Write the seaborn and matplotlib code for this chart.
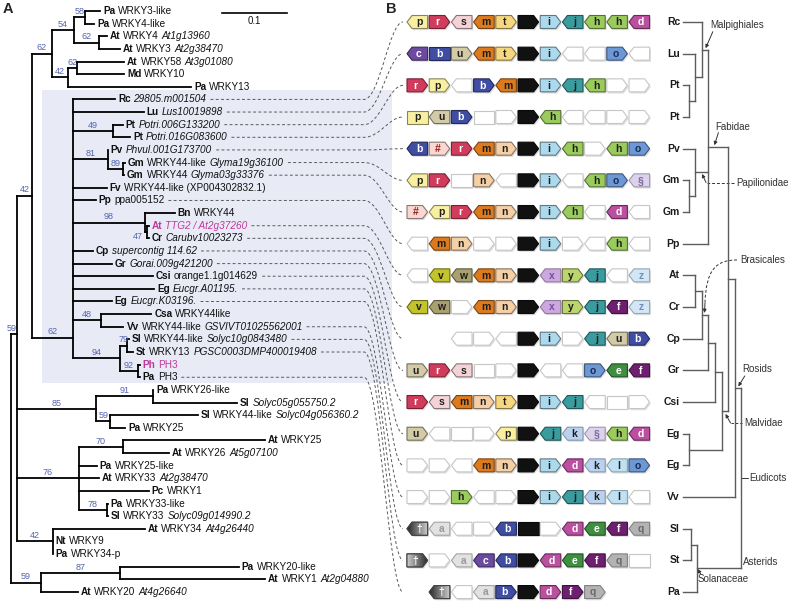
import matplotlib
matplotlib.use("Agg")
import matplotlib.pyplot as plt
import seaborn as sns
import numpy as np
import matplotlib.colors as mcolors
from matplotlib.patches import Polygon, Rectangle, PathPatch
from matplotlib.path import Path

sns.set_theme(style="white")
plt.rcParams['font.family'] = ['Liberation Sans', 'DejaVu Sans']

# ------------------------------------------------------------------ data
# leaf labels of the gene tree: (species, plain name, italic accession, highlighted)
LEAVES = [
    ("Pa", "WRKY3-like", "", 0), ("Pa", "WRKY4-like", "", 0),
    ("At", "WRKY4", "At1g13960", 0), ("At", "WRKY3", "At2g38470", 0),
    ("At", "WRKY58", "At3g01080", 0), ("Md", "WRKY10", "", 0),
    ("Pa", "WRKY13", "", 0), ("Rc", "", "29805.m001504", 0),
    ("Lu", "", "Lus10019898", 0), ("Pt", "", "Potri.006G133200", 0),
    ("Pt", "", "Potri.016G083600", 0), ("Pv", "", "Phvul.001G173700", 0),
    ("Gm", "WRKY44-like", "Glyma19g36100", 0), ("Gm", "WRKY44", "Glyma03g33376", 0),
    ("Fv", "WRKY44-like (XP004302832.1)", "", 0), ("Pp", "ppa005152", "", 0),
    ("Bn", "WRKY44", "", 0), ("At", "", "TTG2 / At2g37260", 1),
    ("Cr", "", "Carubv10023273", 0), ("Cp", "", "supercontig 114.62", 0),
    ("Gr", "", "Gorai.009g421200", 0), ("Csi", "orange1.1g014629", "", 0),
    ("Eg", "", "Eucgr.A01195.", 0), ("Eg", "", "Eucgr.K03196.", 0),
    ("Csa", "WRKY44like", "", 0), ("Vv", "WRKY44-like", "GSVIVT01025562001", 0),
    ("Sl", "WRKY44-like", "Solyc10g0843480", 0), ("St", "WRKY13", "PGSC0003DMP400019408", 0),
    ("Ph", "PH3", "", 1), ("Pa", "PH3", "", 0),
    ("Pa", "WRKY26-like", "", 0), ("Sl", "", "Solyc05g055750.2", 0),
    ("Sl", "WRKY44-like", "Solyc04g056360.2", 0), ("Pa", "WRKY25", "", 0),
    ("At", "WRKY25", "", 0), ("At", "WRKY26", "At5g07100", 0),
    ("Pa", "WRKY25-like", "", 0), ("At", "WRKY33", "At2g38470", 0),
    ("Pc", "WRKY1", "", 0), ("Pa", "WRKY33-like", "", 0),
    ("Sl", "WRKY33", "Solyc09g014990.2", 0), ("At", "WRKY34", "At4g26440", 0),
    ("Nt", "WRKY9", "", 0), ("Pa", "WRKY34-p", "", 0),
    ("Pa", "WRKY20-like", "", 0), ("At", "WRKY1", "At2g04880", 0),
    ("At", "WRKY20", "At4g26640", 0),
]

# gene tree: internal = (bootstrap, branch length, children[, anchor]); leaf = (leaf index, branch length)
TREE = ("", 0.0, [
    ("59", 0.009, [
        ("42", 0.023, [
            ("62", 0.031, [
                ("54", 0.034, [
                    ("58", 0.017, [(0, 0.023), (1, 0.014)]),
                    ("62", 0.038, [(2, 0.012), (3, 0.032)]),
                ]),
                ("42", 0.025, [
                    ("62", 0.014, [(4, 0.072), (5, 0.072)]),
                    (6, 0.189),
                ]),
            ]),
            ("62", 0.063, [
                (7, 0.065), (8, 0.109),
                ("49", 0.062, [(9, 0.015), (10, 0.026)]),
                ("81", 0.054, [(11, 0.0), ("89", 0.023, [(12, 0.003), (13, 0.002)])]),
                (14, 0.052), (15, 0.035),
                ("98", 0.111, [(16, 0.046), ("47", 0.003, [(17, 0.003), (18, 0.003)])]),
                (19, 0.031), (20, 0.060), (21, 0.123), (22, 0.125), (23, 0.060),
                ("48", 0.043, [(24, 0.078), (25, 0.035)]),
                ("94", 0.072, [("79", 0.012, [(26, 0.002), (27, 0.009)]),
                               ("92", 0.028, [(28, 0.003), (29, 0.003)])]),
            ], 0.92),
        ]),
        ("85", 0.122, [
            ("91", 0.088, [(30, 0.0), (31, 0.129)]),
            ("59", 0.022, [(32, 0.134), (33, 0.023)]),
        ]),
        ("76", 0.095, [
            ("70", 0.068, [(34, 0.218), (35, 0.071)]),
            (36, 0.028), (37, 0.031), (38, 0.108),
            ("78", 0.043, [(39, 0.002), (40, 0.002)]),
        ]),
        ("42", 0.055, [(41, 0.142), (42, 0.0), (43, 0.0)]),
    ], 0.40),
    ("59", 0.046, [
        ("87", 0.122, [(44, 0.182), (45, 0.223)]),
        (46, 0.057),
    ]),
])
SCALE_VALUE = 0.1

# dashed links: gene-tree leaf -> motif row
LINKS = [(7, 0), (8, 1), (9, 2), (10, 3), (11, 4), (12, 5), (13, 6), (15, 7), (17, 8),
         (18, 9), (19, 10), (20, 11), (21, 12), (22, 13), (23, 14), (25, 15), (26, 16),
         (27, 17), (29, 18)]

ROW_SPECIES = ["Rc", "Lu", "Pt", "Pt", "Pv", "Gm", "Gm", "Pp", "At", "Cr", "Cp", "Gr",
               "Csi", "Eg", "Eg", "Vv", "Sl", "St", "Pa"]

# motif rows: letter + orientation (< left, > right, | none); _ = empty, K = WRKY domain, -- = absent
MOTIFS = [
    "p< r> s< m< t> K> i> j< h< h< d<",
    "c< b| u> m< t> K> i> _< _< o> _<",
    "r> p> _< b> m< K> i> j< h< _> _>",
    "p| u< b> _| _> K> h< _< _< _> _>",
    "b< #> r> m< n> K> i> h< _> h< o>",
    "p< r> _| n> _< K> i> _< h< o> §<",
    "#> p< r> m< n> K> i> h< _< d< _<",
    "_< m< n> _> _> K> i> _> _< h< _<",
    "_< v< w< m< n> K> x< y> j< _< z<",
    "v< w< _> m< n> K> x< y> j< f< z<",
    "-- -- _< _> _< K> i> _> j< u< b>",
    "u> r> s< _| _> K> _< _< o> e< f<",
    "r> s< m< n> t> K> i> j< _< _| _>",
    "u> _< _| _> p< K> j< k< §< h< d<",
    "_> _> _< m< n> K> i> d< k< l< o>",
    "_> _> h> _< _> K> i> j< k< l< _<",
    "†< a< _< _> b< K| _> d< e< f< q<",
    "†> _> a< c< b< K> d< e< f< q< _|",
    "-- †< _< a< b> K> d> f> q> -- --",
]

MOTIF_COLORS = {
    'p': '#f8f0a0', 'r': '#d23c5c', 's': '#f3d3d6', 'm': '#dc7a1e', 't': '#f6d67e',
    'K': '#111111', 'i': '#acd9ec', 'j': '#3a9c9f', 'h': '#9acb5c', 'd': '#bb4fa0',
    'c': '#6c4aa0', 'b': '#3f4da3', 'u': '#d3cba8', 'o': '#6d98d6', '#': '#f8d8d0',
    'n': '#f5cfa6', '§': '#ddd2ec', 'v': '#c3c32c', 'w': '#a8a06e', 'x': '#cba8de',
    'y': '#bcd56e', 'z': '#d2e6f6', 'f': '#6e1f70', 'e': '#3f8f40', 'k': '#bad2ee',
    'l': '#bfe1f2', 'q': '#b3b3b3', 'a': '#e2e2e2', '†': '#6a6a6a', '_': '#ffffff',
}
MOTIF_TEXT = {'r': 'white', 'b': 'white', 'c': 'white', 'd': 'white', 'f': 'white',
              'e': 'white', '†': 'white', '#': '#9a1f1f', 'x': '#7b4c9c', 'a': '#9a9a9a',
              'q': '#6a6a6a', 'z': '#6f8fb0', '§': '#7a6a9a', 'o': '#1b2b55'}

# species tree (cladogram): internal = (level, name, children); leaf = row index
SPTREE = (9, "Eudicots", [
    (8, "RosidsV", [
        (7, "Rosids", [
            (4, "Fabidae", [
                (3, "Malpighiales", [0, (2, "LuPt", [1, (1, "Pt", [2, 3])])]),
                (2, "Papilionidae", [4, (1, "Gm", [5, 6])]),
                7,
            ]),
            (6, "Malvidae", [
                (5, "Sapindales", [(4, "Malvales", [(3, "Brasicales", [(2, "AtCr", [8, 9]), 10]), 11]), 12]),
                (1, "Myrtales", [13, 14]),
            ]),
        ]),
        15,
    ]),
    (2.2, "Asterids", [(1.4, "Solanaceae", [16, 17]), 18]),
])

# ------------------------------------------------------------------ figure
W, H = 792, 607
fig = plt.figure(figsize=(W / 100, H / 100), dpi=100)
ax = fig.add_axes([0, 0, 1, 1])
ax.set_xlim(0, W)
ax.set_ylim(H, 0)
ax.axis('off')
renderer = fig.canvas.get_renderer()

LEAF_FS = 7.2
SUP_COL = '#5565b0'
HL_COL = '#c0399a'
X0, PX_PER_UNIT = 11.0, 650.0
Y0, DY = 11.0, 12.63
TREE_LW = 1.3

leaf_y = {i: Y0 + i * DY for i in range(len(LEAVES))}

# shaded clade box
ax.add_patch(Rectangle((42, leaf_y[7] - 9), 350, (leaf_y[29] + 6) - (leaf_y[7] - 9),
                       facecolor='#e8ebf6', edgecolor='none', zorder=0))

leaf_tip = {}


def line(xs, ys, **kw):
    ax.plot(xs, ys, color=kw.pop('color', 'black'), lw=kw.pop('lw', TREE_LW),
            solid_capstyle='projecting', zorder=kw.pop('zorder', 3), **kw)


def draw_node(node, parent_x):
    if isinstance(node[0], int):
        idx, bl = node
        x = parent_x + bl * PX_PER_UNIT
        y = leaf_y[idx]
        if x - parent_x > 0.3:
            line([parent_x, x], [y, y])
        leaf_tip[idx] = x
        return y
    sup, bl, kids = node[:3]
    anchor = node[3] if len(node) > 3 else 0.5
    x = parent_x + bl * PX_PER_UNIT
    ys = [draw_node(k, x) for k in kids]
    line([x, x], [ys[0], ys[-1]])
    y = ys[0] + anchor * (ys[-1] - ys[0])
    if bl > 0:
        line([parent_x, x], [y, y])
    if sup:
        blen = x - parent_x
        if blen < 5:
            ax.text(parent_x - 2, y + 4, sup, ha='right', va='center', fontsize=6.5, color=SUP_COL)
        elif blen < 7:
            ax.text(parent_x + 0.5, y - 1.2, sup, ha='center', va='bottom', fontsize=6.5, color=SUP_COL)
        else:
            ax.text((parent_x + x) / 2, y - 1.2, sup, ha='center', va='bottom', fontsize=6.5, color=SUP_COL)
    return y


draw_node(TREE, X0)

# leaf labels
GAP = 2.9
label_end = {}
for i, (sp, name, acc, hl) in enumerate(LEAVES):
    col = HL_COL if hl else '#111111'
    x = leaf_tip[i] + 3
    y = leaf_y[i]
    parts = [(sp, 'bold', 'normal'), (name, 'normal', 'normal'), (acc, 'normal', 'italic')]
    for s, wgt, sty in parts:
        if not s:
            continue
        t = ax.text(x, y, s, fontsize=LEAF_FS, fontweight=wgt, fontstyle=sty, color=col,
                    ha='left', va='center', zorder=4)
        x += t.get_window_extent(renderer).width + GAP
    label_end[i] = x - GAP

# scale bar
sb_x0, sb_y = 222, 13
line([sb_x0, sb_x0 + SCALE_VALUE * PX_PER_UNIT], [sb_y, sb_y], lw=1.2)
ax.text(sb_x0 + SCALE_VALUE * PX_PER_UNIT / 2, sb_y + 3, str(SCALE_VALUE), ha='center', va='top',
        fontsize=7, color='#111')

# panel letters
ax.text(3, 9, "A", fontsize=10.5, fontweight='bold', ha='left', va='center')
ax.text(386, 9, "B", fontsize=10.5, fontweight='bold', ha='left', va='center')

# ------------------------------------------------------------------ panel B motifs
SX0, SPITCH, SW, SHT, SD = 407.0, 22.2, 20.6, 13.0, 5.0
RY0, RDY = 22.0, 31.67
row_y = [RY0 + r * RDY for r in range(len(MOTIFS))]


def shape_pts(x0, y, d):
    x1 = x0 + SW
    t, b = y - SHT / 2, y + SHT / 2
    if d == '>':
        return [(x0, t), (x1 - SD, t), (x1, y), (x1 - SD, b), (x0, b)]
    if d == '<':
        return [(x0 + SD, t), (x1, t), (x1, b), (x0 + SD, b), (x0, y)]
    return [(x0, t), (x1, t), (x1, b), (x0, b)]


def darker(c, f):
    r, g, b = mcolors.to_rgb(c)
    return (r * f, g * f, b * f)


grad = np.linspace(0.15, 0.8, 64)[None, :]
for r, row in enumerate(MOTIFS):
    y = row_y[r]
    for s, tok in enumerate(row.split()):
        if tok == '--':
            continue
        let, d = tok[:-1], tok[-1]
        x0 = SX0 + s * SPITCH
        pts = shape_pts(x0, y, d)
        fc = MOTIF_COLORS[let]
        if let == '_':
            ec = '#c6c6c6'
        elif let in 'a§zklxq':
            ec = darker(fc, 0.72)
        else:
            ec = darker(fc, 0.55)
        sh = Polygon([(px + 1.3, py + 1.7) for px, py in pts], closed=True,
                     facecolor='#000000', alpha=0.13, edgecolor='none', zorder=2)
        ax.add_patch(sh)
        poly = Polygon(pts, closed=True, facecolor=fc, edgecolor=ec, lw=0.8, zorder=3)
        ax.add_patch(poly)
        if let == '†':
            g = grad if d != '>' else grad[:, ::-1]
            im = ax.imshow(g, cmap='gray', vmin=0, vmax=1, aspect='auto',
                           extent=(x0, x0 + SW, y + SHT / 2, y - SHT / 2), zorder=3.1,
                           interpolation='bilinear')
            im.set_clip_path(poly)
            ax.add_patch(Polygon(pts, closed=True, facecolor='none', edgecolor='#444444',
                                 lw=0.8, zorder=3.2))
        if let not in ('_', 'K'):
            if d == '>':
                cx = x0 + (SW - SD) / 2 + 0.8
            elif d == '<':
                cx = x0 + SD + (SW - SD) / 2 - 0.8
            else:
                cx = x0 + SW / 2
            ax.text(cx, y + 0.3, let, ha='center', va='center', fontsize=7.5, fontweight='bold',
                    color=MOTIF_TEXT.get(let, '#1e1e1e'), zorder=4)

# dashed connectors
XL, XE = 364.0, 403.0
for li, ri in LINKS:
    xs = label_end[li] + 4
    yl, yr = leaf_y[li], row_y[ri]
    verts = [(xs, yl), (XL, yl), (XL + 16, yl), (XE - 14, yr), (XE, yr)]
    codes = [Path.MOVETO, Path.LINETO, Path.CURVE4, Path.CURVE4, Path.CURVE4]
    ax.add_patch(PathPatch(Path(verts, codes), facecolor='none', edgecolor='#5a5a5a',
                           lw=0.7, linestyle=(0, (3, 2.4)), zorder=2))

# ------------------------------------------------------------------ species tree
SP_TIP_X, SP_LX, SP_STEP = 683.0, 682.0, 6.6
SP_COL = '#5c5c5c'
sp_nodes = {}


def sp_draw(node):
    level, name, kids = node
    x = SP_LX + level * SP_STEP
    ys = []
    for k in kids:
        if isinstance(k, int):
            yk = row_y[k]
            line([SP_TIP_X, x], [yk, yk], color=SP_COL, lw=1.0)
        else:
            xk, yk = sp_draw(k)
            line([xk, x], [yk, yk], color=SP_COL, lw=1.0)
            sp_nodes[k[1]] = (xk, yk, x)
        ys.append(yk)
    line([x, x], [ys[0], ys[-1]], color=SP_COL, lw=1.0)
    y = (ys[0] + ys[-1]) / 2
    return x, y


ex, ey = sp_draw(SPTREE)
sp_nodes["Eudicots"] = (ex, ey, ex)

for r, sp in enumerate(ROW_SPECIES):
    ax.text(680, row_y[r], sp, ha='right', va='center', fontsize=7.5, fontweight='bold', color='#1a1a1a')

ANN_FS = 7
ANN_COL = '#333333'
arrow_kw = dict(arrowstyle='-|>', color='#333333', lw=0.7, mutation_scale=5, shrinkA=0, shrinkB=0)


def arrow(xy_from, xy_to, ls='-'):
    ax.annotate("", xy=xy_to, xytext=xy_from, arrowprops=dict(linestyle=ls, **arrow_kw), zorder=5)


# Malpighiales
nx, ny, px = sp_nodes["Malpighiales"]
ax.text(nx + 8, ny - 25, "Malpighiales", fontsize=ANN_FS, color=ANN_COL, ha='left', va='center')
arrow((nx + 11, ny - 18), ((nx + px) / 2 + 0.5, ny - 1.5))
# Fabidae
nx, ny, px = sp_nodes["Fabidae"]
ax.text(nx + 7, ny - 20, "Fabidae", fontsize=ANN_FS, color=ANN_COL, ha='left', va='center')
arrow((nx + 10, ny - 14), (nx + 6, ny - 1.5))
# Papilionidae
nx, ny, px = sp_nodes["Papilionidae"]
ax.text(736, ny + 11, "Papilionidae", fontsize=ANN_FS, color=ANN_COL, ha='left', va='center')
ax.plot([734, 707], [ny + 11, ny + 11], color='#333', lw=0.7, linestyle=(0, (3, 2)))
arrow((706, ny + 10), (702, ny + 1.5))
# Brasicales
nx, ny, px = sp_nodes["Brasicales"]
ax.text(740, ny - 55, "Brasicales", fontsize=ANN_FS, color=ANN_COL, ha='left', va='center')
bz = Path([(737, ny - 55), (716, ny - 55), (706, ny - 45), (705, ny - 12)],
          [Path.MOVETO, Path.CURVE4, Path.CURVE4, Path.CURVE4])
ax.add_patch(PathPatch(bz, facecolor='none', edgecolor='#333', lw=0.7, linestyle=(0, (3, 2))))
arrow((705, ny - 12), (704.5, ny - 2))
# Rosids
nx, ny, px = sp_nodes["RosidsV"]
ax.text(nx + 7, ny - 19, "Rosids", fontsize=ANN_FS, color=ANN_COL, ha='left', va='center')
arrow((nx + 10, ny - 12), (nx + 3.5, ny - 1.5))
# Malvidae
nx, ny, px = sp_nodes["Malvidae"]
ax.text(744, ny + 12, "Malvidae", fontsize=ANN_FS, color=ANN_COL, ha='left', va='center')
ax.plot([731, 742], [ny + 12, ny + 12], color='#333', lw=0.7, linestyle=(0, (2.5, 2)))
arrow((730.5, ny + 12), (725.5, ny + 3))
# Eudicots
nx, ny, px = sp_nodes["Eudicots"]
ax.plot([nx, nx + 7], [ny, ny], color='#333', lw=0.7)
ax.text(nx + 8, ny, "Eudicots", fontsize=ANN_FS, color=ANN_COL, ha='left', va='center')
# Asterids
nx, ny, px = sp_nodes["Asterids"]
ax.text(px + 1.5, ny - 6, "Asterids", fontsize=ANN_FS, color=ANN_COL, ha='left', va='center')
# Solanaceae
ax2y = sp_nodes["Asterids"][1]
ax.text(698, ax2y + 11, "Solanaceae", fontsize=ANN_FS, color=ANN_COL, ha='left', va='center')
arrow((701, ax2y + 6), (697.5, ax2y + 0.8))

ax.set_xlim(0, W)
ax.set_ylim(H, 0)
fig.savefig("out.png", dpi=100)
